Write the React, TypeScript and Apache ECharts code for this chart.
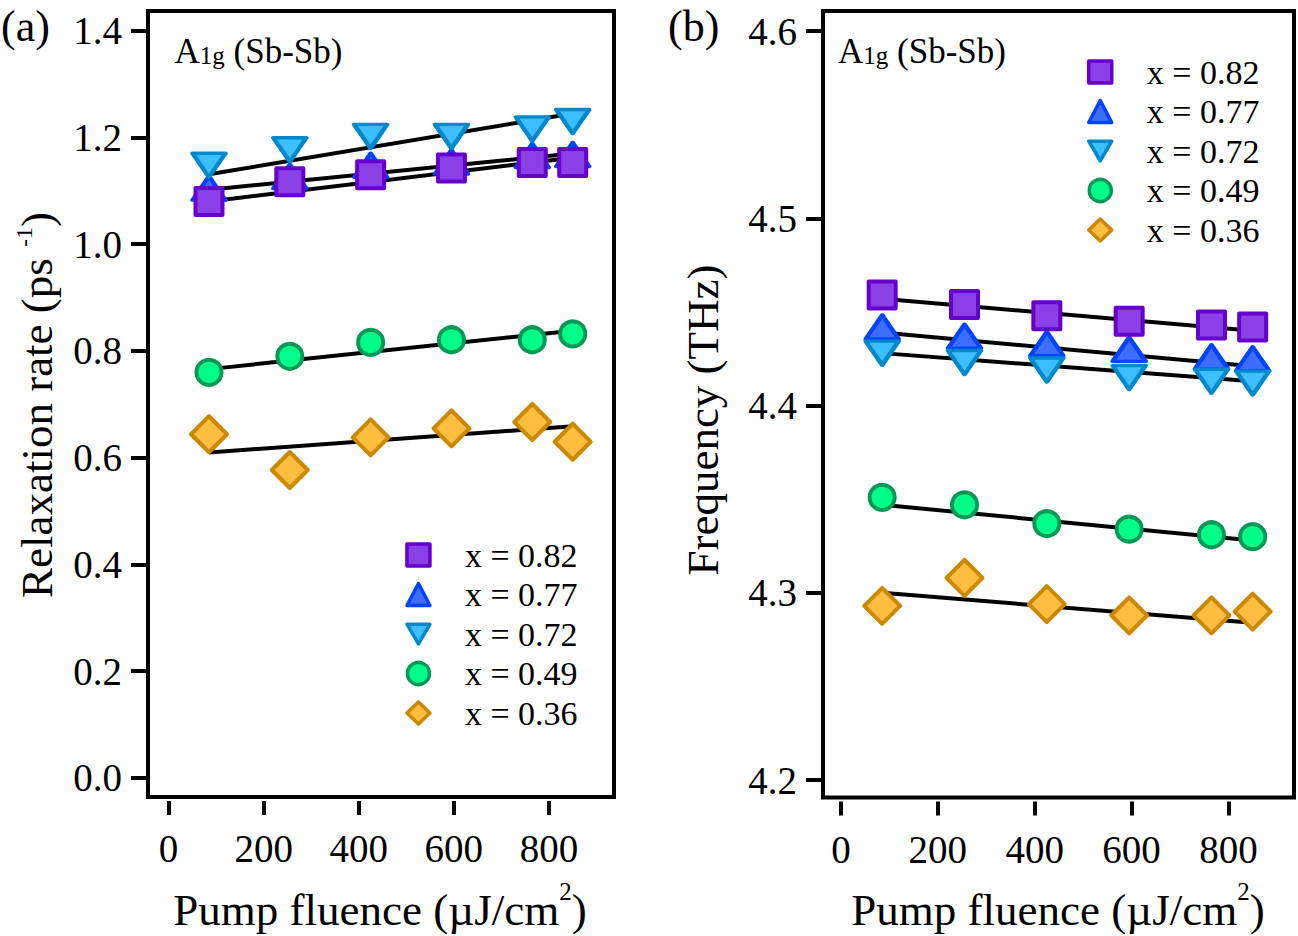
import React, { useEffect, useRef } from "react";
import * as echarts from "echarts";

// ---------- data ----------
const FLUENCE = [85, 255, 425, 595, 765, 850];
const FIT_X = [85, 850];
const X_TICKS = [0, 200, 400, 600, 800];
const RATE_TICKS = [0, 0.2, 0.4, 0.6, 0.8, 1.0, 1.2, 1.4];
const FREQ_TICKS = [4.2, 4.3, 4.4, 4.5, 4.6];
const NAMES = ["x = 0.82", "x = 0.77", "x = 0.72", "x = 0.49", "x = 0.36"];

// panel (a) relaxation rate (ps^-1)
const RATE_082 = [1.08, 1.117, 1.13, 1.143, 1.153, 1.153];
const RATE_077 = [1.105, 1.127, 1.148, 1.154, 1.166, 1.168];
const RATE_072 = [1.148, 1.177, 1.202, 1.202, 1.216, 1.23];
const RATE_049 = [0.76, 0.79, 0.816, 0.821, 0.821, 0.832];
const RATE_036 = [0.644, 0.577, 0.638, 0.655, 0.667, 0.63];
// fit lines (values at FIT_X)
const RATE_FIT_082 = [1.08, 1.162];
const RATE_FIT_077 = [1.102, 1.17];
const RATE_FIT_072 = [1.131, 1.245];
const RATE_FIT_049 = [0.766, 0.838];
const RATE_FIT_036 = [0.61, 0.659];

// panel (b) frequency (THz)
const FREQ_082 = [4.459, 4.454, 4.448, 4.445, 4.443, 4.442];
const FREQ_077 = [4.442, 4.437, 4.433, 4.43, 4.426, 4.425];
const FREQ_072 = [4.428, 4.423, 4.419, 4.415, 4.413, 4.412];
const FREQ_049 = [4.351, 4.347, 4.337, 4.334, 4.331, 4.33];
const FREQ_036 = [4.293, 4.308, 4.294, 4.288, 4.288, 4.29];
const FREQ_FIT_082 = [4.457, 4.44];
const FREQ_FIT_077 = [4.439, 4.421];
const FREQ_FIT_072 = [4.428, 4.413];
const FREQ_FIT_049 = [4.347, 4.328];
const FREQ_FIT_036 = [4.3, 4.284];

// ---------- styles ----------
const FONT = "'Liberation Serif', 'Times New Roman', serif";
const DOWN_TRI = "path://M0,0 L20,0 L10,17 Z";
const MARK: Record<string, any> = {
  "x = 0.82": { symbol: "rect", size: 27, rotate: 0, fill: "#8B40E6", border: "#6600CC" },
  "x = 0.77": { symbol: "triangle", size: [33, 24], rotate: 0, fill: "#3D6EFF", border: "#0044FF" },
  "x = 0.72": { symbol: "triangle", size: [33, 24], rotate: 180, fill: "#3DBFFF", border: "#0088CC", icon: DOWN_TRI },
  "x = 0.49": { symbol: "circle", size: 25, rotate: 0, fill: "#00FF88", border: "#009955" },
  "x = 0.36": { symbol: "diamond", size: 36, rotate: 0, fill: "#FFBE40", border: "#CC8800" },
};

function scatter(name: string, vals: number[], idx: number) {
  const m = MARK[name];
  return {
    type: "scatter",
    name,
    xAxisIndex: idx,
    yAxisIndex: idx,
    data: FLUENCE.map((f, i) => [f, vals[i]]),
    symbol: m.symbol,
    symbolSize: m.size,
    symbolRotate: m.rotate,
    itemStyle: { color: m.fill, borderColor: m.border, borderWidth: 4, borderJoin: "round", opacity: 1 },
    emphasis: { disabled: true },
    z: 3,
  };
}

function fit(name: string, vals: number[], idx: number) {
  return {
    type: "line",
    name,
    xAxisIndex: idx,
    yAxisIndex: idx,
    data: FIT_X.map((f, i) => [f, vals[i]]),
    symbol: "none",
    lineStyle: { color: "#000", width: 4 },
    emphasis: { disabled: true },
    z: 2,
  };
}

function xAxis(idx: number, min: number, max: number) {
  return {
    type: "value",
    gridIndex: idx,
    min,
    max,
    offset: 4,
    axisLine: { show: false, onZero: false },
    splitLine: { show: false },
    axisTick: { show: true, inside: false, customValues: X_TICKS, length: 14, lineStyle: { color: "#000", width: 4 } },
    axisLabel: { customValues: X_TICKS, fontFamily: FONT, fontSize: 39, color: "#000", margin: 28 },
  };
}

function yAxis(idx: number, min: number, max: number, ticks: number[]) {
  return {
    type: "value",
    gridIndex: idx,
    min,
    max,
    axisLine: { show: false, onZero: false },
    splitLine: { show: false },
    axisTick: { show: true, inside: false, customValues: ticks, length: 17, lineStyle: { color: "#000", width: 4 } },
    axisLabel: {
      customValues: ticks,
      formatter: (v: number) => v.toFixed(1),
      fontFamily: FONT,
      fontSize: 39,
      color: "#000",
      margin: 26,
    },
  };
}

function legend(left: number, top: number) {
  return {
    data: NAMES.map((n) => {
      const m = MARK[n];
      const item: any = { name: n };
      if (m.icon) {
        item.icon = m.icon;
        item.itemStyle = { color: m.fill, borderColor: m.border, borderWidth: 3.5, borderJoin: "round" };
      }
      return item;
    }),
    orient: "vertical",
    left,
    top,
    padding: 0,
    itemWidth: 23,
    itemHeight: 22,
    itemGap: 3.5,
    selectedMode: false,
    itemStyle: { borderWidth: 3.5 },
    textStyle: { fontFamily: FONT, fontSize: 34, color: "#000", lineHeight: 36, padding: [0, 0, 0, 30] },
  };
}

const titleRich = {
  n: { fontFamily: FONT, fontSize: 35, lineHeight: 34, verticalAlign: "top", fill: "#000", color: "#000" },
  s: { fontFamily: FONT, fontSize: 25, lineHeight: 14, verticalAlign: "bottom", fill: "#000", color: "#000" },
};

const yTitleRich = {
  n: { fontFamily: FONT, fontSize: 45, lineHeight: 50, fill: "#000", color: "#000" },
  sup: { fontFamily: FONT, fontSize: 24, lineHeight: 17, verticalAlign: "top", fill: "#000", color: "#000" },
};

const xTitleRich = {
  n: { fontFamily: FONT, fontSize: 45, lineHeight: 62, fill: "#000", color: "#000" },
  sup: { fontFamily: FONT, fontSize: 25, lineHeight: 6, verticalAlign: "top", fill: "#000", color: "#000" },
};

function textEl(x: number, y: number, text: string, extra: any = {}, rotation = 0) {
  return {
    type: "text",
    x,
    y,
    rotation,
    silent: true,
    style: { text, fontFamily: FONT, fill: "#000", ...extra },
  };
}

export default function App() {
  const ref = useRef<HTMLDivElement>(null);
  useEffect(() => {
    if (!ref.current) return;
    const chart = echarts.init(ref.current, undefined, { renderer: "svg" });
    const option: any = {
      animation: false,
      backgroundColor: "#fff",
      grid: [
        { left: 148, top: 11, width: 466, height: 786, show: true, borderColor: "#000", borderWidth: 4, backgroundColor: "transparent" },
        { left: 823, top: 11, width: 471, height: 786.5, show: true, borderColor: "#000", borderWidth: 4, backgroundColor: "transparent" },
      ],
      xAxis: [xAxis(0, -43.3, 936.9), xAxis(1, -37.2, 935.4)],
      yAxis: [yAxis(0, -0.0356, 1.4369, RATE_TICKS), yAxis(1, 4.1907, 4.6107, FREQ_TICKS)],
      legend: [legend(405.2, 537), legend(1087, 54)],
      series: [
        fit("fit a 0.82", RATE_FIT_082, 0),
        fit("fit a 0.77", RATE_FIT_077, 0),
        fit("fit a 0.72", RATE_FIT_072, 0),
        fit("fit a 0.49", RATE_FIT_049, 0),
        fit("fit a 0.36", RATE_FIT_036, 0),
        scatter("x = 0.77", RATE_077, 0),
        scatter("x = 0.72", RATE_072, 0),
        scatter("x = 0.82", RATE_082, 0),
        scatter("x = 0.49", RATE_049, 0),
        scatter("x = 0.36", RATE_036, 0),
        fit("fit b 0.82", FREQ_FIT_082, 1),
        fit("fit b 0.77", FREQ_FIT_077, 1),
        fit("fit b 0.72", FREQ_FIT_072, 1),
        fit("fit b 0.49", FREQ_FIT_049, 1),
        fit("fit b 0.36", FREQ_FIT_036, 1),
        scatter("x = 0.77", FREQ_077, 1),
        scatter("x = 0.72", FREQ_072, 1),
        scatter("x = 0.82", FREQ_082, 1),
        scatter("x = 0.49", FREQ_049, 1),
        scatter("x = 0.36", FREQ_036, 1),
      ],
      graphic: [
        textEl(1, 26, "(a)", { fontSize: 44, textAlign: "left", textVerticalAlign: "middle" }),
        textEl(668, 26, "(b)", { fontSize: 44, textAlign: "left", textVerticalAlign: "middle" }),
        textEl(174.5, 34, "{n|A}{s|1g}{n| (Sb-Sb)}", { rich: titleRich, textAlign: "left", textVerticalAlign: "top" }),
        textEl(838, 34, "{n|A}{s|1g}{n| (Sb-Sb)}", { rich: titleRich, textAlign: "left", textVerticalAlign: "top" }),
        textEl(36.5, 405, "{n|Relaxation rate (ps }{sup|-1}{n|)}", { rich: yTitleRich, textAlign: "center", textVerticalAlign: "middle" }, Math.PI / 2),
        textEl(703, 420, "{n|Frequency (THz)}", { rich: yTitleRich, textAlign: "center", textVerticalAlign: "middle" }, Math.PI / 2),
        textEl(380, 910, "{n|Pump fluence (µJ/cm}{sup|2}{n|)}", { rich: xTitleRich, textAlign: "center", textVerticalAlign: "middle" }),
        textEl(1058, 910, "{n|Pump fluence (µJ/cm}{sup|2}{n|)}", { rich: xTitleRich, textAlign: "center", textVerticalAlign: "middle" }),
      ],
    };
    chart.setOption(option);
    return () => chart.dispose();
  }, []);
  return (
    <div
      ref={ref}
      style={{ position: "fixed", left: 0, top: 0, width: 1298, height: 936, background: "#fff" }}
    />
  );
}
